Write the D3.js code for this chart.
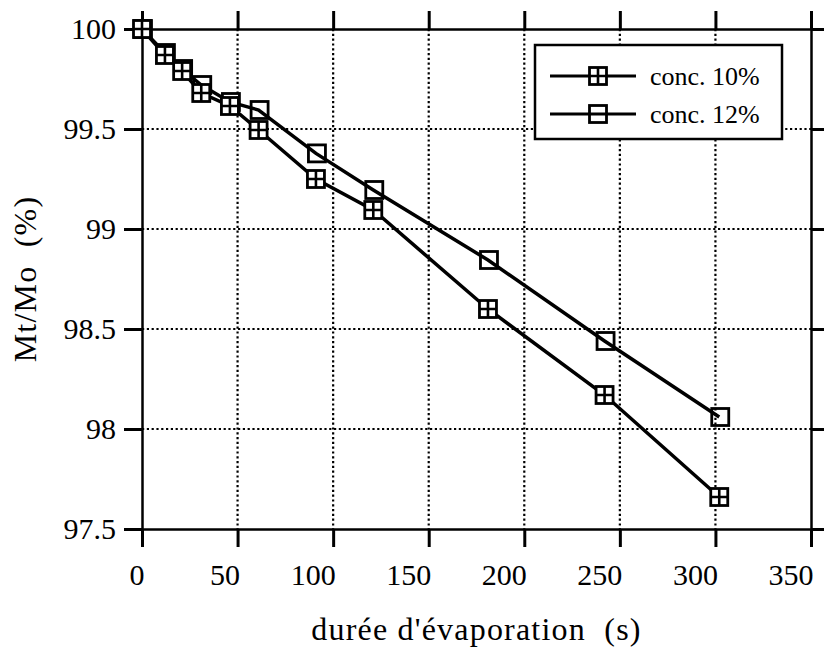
<!DOCTYPE html>
<html><head><meta charset="utf-8">
<script src="https://cdn.jsdelivr.net/npm/d3@7"></script>
<style>body{margin:0;background:#fff}</style>
</head><body><script>
const times = [0, 12, 21, 31, 46, 61, 91, 121, 181, 242, 302];
const conc10 = [100, 99.87, 99.79, 99.68, 99.615, 99.495, 99.25, 99.095, 98.60, 98.17, 97.66];
const conc12 = [100, 99.88, 99.80, 99.72, 99.635, 99.595, 99.378, 99.195, 98.845, 98.44, 98.06];
const seriesNames = ["conc. 10%", "conc. 12%"];
const xTicks = [0, 50, 100, 150, 200, 250, 300, 350];
const yTicks = [97.5, 98, 98.5, 99, 99.5, 100];
const yTickLabels = ["97.5", "98", "98.5", "99", "99.5", "100"];
const xTitle = "durée d'évaporation  (s)";
const yTitle = "Mt/Mo  (%)";

const W = 824, H = 650;
const FONT = "'Liberation Serif','Times New Roman',serif";
const svg = d3.select("body").append("svg").attr("width", W).attr("height", H)
  .style("font-family", FONT);

const x = d3.scaleLinear().domain([0, 350]).range([142, 811]);
const y = d3.scaleLinear().domain([97.5, 100]).range([529, 29]);
const TS = 18;

// grid
const g = svg.append("g");
g.selectAll("line.gx").data(xTicks.slice(1, -1)).join("line")
  .attr("x1", d => x(d)).attr("x2", d => x(d)).attr("y1", y(100)).attr("y2", y(97.5))
  .attr("stroke", "#000").attr("stroke-width", 2.2).attr("stroke-dasharray", "2.2,2.6");
g.selectAll("line.gy").data(yTicks.slice(1, -1)).join("line")
  .attr("y1", d => y(d)).attr("y2", d => y(d)).attr("x1", x(0)).attr("x2", x(350))
  .attr("stroke", "#000").attr("stroke-width", 2.2).attr("stroke-dasharray", "2.2,2.6");

function styleAxis(sel) {
  sel.select(".domain").attr("stroke-width", 2.5);
  sel.selectAll(".tick line").attr("stroke-width", 3);
  sel.selectAll("text").style("font-family", FONT).style("font-size", "30px").attr("fill", "#000");
}
svg.append("g").attr("transform", `translate(${x(0)},0)`)
  .call(d3.axisLeft(y).tickValues(yTicks).tickSize(TS).tickSizeOuter(0).tickPadding(8)
    .tickFormat(d => yTickLabels[yTicks.indexOf(d)]))
  .call(styleAxis);
svg.append("g").attr("transform", `translate(${x(350)},0)`)
  .call(d3.axisRight(y).tickValues(yTicks).tickSize(TS).tickSizeOuter(0).tickFormat(""))
  .call(styleAxis);
svg.append("g").attr("transform", `translate(0,${y(97.5)})`)
  .call(d3.axisBottom(x).tickValues(xTicks).tickSize(TS).tickSizeOuter(0).tickPadding(17)
    .tickFormat(d3.format("d")))
  .call(styleAxis)
  .call(a => a.selectAll(".tick text").attr("text-anchor", "end").attr("dx", 2));
svg.append("g").attr("transform", `translate(0,${y(100)})`)
  .call(d3.axisTop(x).tickValues(xTicks).tickSize(TS).tickSizeOuter(0).tickFormat(""))
  .call(styleAxis);

// series
const line = d3.line().x(d => x(d[0])).y(d => y(d[1]));
const s10 = times.map((t, i) => [t, conc10[i]]);
const s12 = times.map((t, i) => [t, conc12[i]]);
[s12, s10].forEach(s => svg.append("path").datum(s).attr("d", line)
  .attr("fill", "none").attr("stroke", "#000").attr("stroke-width", 3.5));

const M = 17;
function openSq(sel) {
  sel.append("rect").attr("x", -M / 2).attr("y", -M / 2).attr("width", M).attr("height", M)
    .attr("fill", "none").attr("stroke", "#000").attr("stroke-width", 2.8);
}
function checkSq(sel) {
  sel.append("rect").attr("x", -M / 2).attr("y", -M / 2).attr("width", M).attr("height", M)
    .attr("fill", "#fff").attr("stroke", "#000").attr("stroke-width", 2.8);
  sel.append("path").attr("d", `M${-M / 2},0H${M / 2}M0,${-M / 2}V${M / 2}`)
    .attr("stroke", "#000").attr("stroke-width", 2.6);
}
svg.append("g").selectAll("g").data(s12).join("g")
  .attr("transform", d => `translate(${x(d[0]) + 1},${y(d[1])})`).call(openSq);
svg.append("g").selectAll("g").data(s10).join("g")
  .attr("transform", d => `translate(${x(d[0])},${y(d[1])})`).call(checkSq);

// legend
const lg = svg.append("g");
lg.append("rect").attr("x", 535).attr("y", 45).attr("width", 247).attr("height", 94)
  .attr("fill", "#fff").attr("stroke", "#000").attr("stroke-width", 2.5);
const rows = [{ name: seriesNames[0], mk: checkSq, yy: 76 }, { name: seriesNames[1], mk: openSq, yy: 114 }];
rows.forEach(r => {
  lg.append("line").attr("x1", 550).attr("x2", 636).attr("y1", r.yy).attr("y2", r.yy)
    .attr("stroke", "#000").attr("stroke-width", 3);
  lg.append("g").attr("transform", `translate(598,${r.yy})`).call(r.mk);
  lg.append("text").attr("x", 650).attr("y", r.yy).attr("dy", "0.35em")
    .style("font-size", "26px").text(r.name);
});

// titles
svg.append("text").attr("x", (x(0) + x(350)) / 2).attr("y", 640).attr("text-anchor", "middle")
  .style("font-size", "32px").style("letter-spacing", "1.2px").style("white-space", "pre").text(xTitle);
svg.append("text").attr("transform", `translate(36,${(y(100) + y(97.5)) / 2}) rotate(-90)`)
  .attr("text-anchor", "middle").style("font-size", "32px").style("letter-spacing", "1.2px")
  .style("white-space", "pre").text(yTitle);
</script></body></html>
